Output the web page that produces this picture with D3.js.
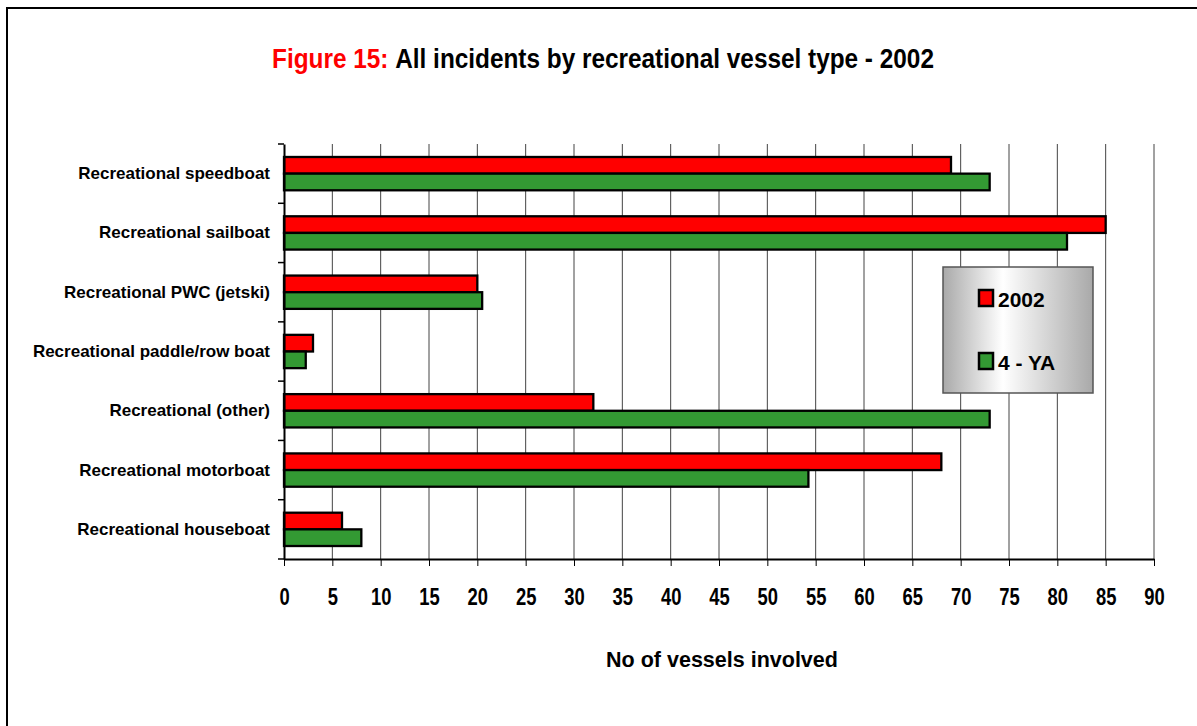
<!DOCTYPE html>
<html>
<head>
<meta charset="utf-8">
<script src="https://cdn.jsdelivr.net/npm/d3@7"></script>
<style>
  body { margin: 0; background: #fff; }
  svg { display: block; font-family: "Liberation Sans", Arial, sans-serif; font-weight: bold; }
</style>
</head>
<body>
<svg id="chart" width="1197" height="726"></svg>
<script>
const categories = [
  "Recreational speedboat",
  "Recreational sailboat",
  "Recreational PWC (jetski)",
  "Recreational paddle/row boat",
  "Recreational (other)",
  "Recreational motorboat",
  "Recreational houseboat"
];
const seriesNames = ["2002", "4 - YA"];
const values2002 = [69, 85, 20, 3, 32, 68, 6];
const valuesFourYA = [73, 81, 20.5, 2.25, 73, 54.25, 8];
const xTicks = d3.range(0, 91, 5);
const colors = ["#ff0000", "#339933"];

const svg = d3.select("#chart");
const margin = { left: 284, right: 43, top: 144, bottom: 167 };
const width = 1197, height = 726;

// outer frame
svg.append("rect")
  .attr("x", 7).attr("y", 8)
  .attr("width", 1200).attr("height", 740)
  .attr("fill", "none").attr("stroke", "#000").attr("stroke-width", 2);

// title (narrow bold look)
const title = svg.append("text")
  .attr("transform", "translate(603,68) scale(0.87,1)")
  .attr("text-anchor", "middle")
  .attr("font-size", 28);
title.append("tspan").attr("fill", "#ff0000").text("Figure 15: ");
title.append("tspan").attr("fill", "#000").text("All incidents by recreational vessel type - 2002");

const x = d3.scaleLinear().domain([0, 90]).range([margin.left, width - margin.right]);
const y = d3.scaleBand().domain(categories).range([margin.top, height - margin.bottom]);
const inner = d3.scaleBand().domain(seriesNames).range([0, y.bandwidth()]).paddingOuter(0.78).paddingInner(0);

// gridlines
svg.append("g")
  .selectAll("line")
  .data(xTicks.slice(1))
  .join("line")
  .attr("x1", d => x(d)).attr("x2", d => x(d))
  .attr("y1", margin.top).attr("y2", height - margin.bottom)
  .attr("stroke", "#444").attr("stroke-width", 1);

// bars
const rows = categories.map((c, i) => ({ cat: c, vals: [values2002[i], valuesFourYA[i]] }));
const groups = svg.append("g").selectAll("g")
  .data(rows)
  .join("g")
  .attr("transform", d => `translate(0,${y(d.cat)})`);
groups.selectAll("rect")
  .data(d => d.vals.map((v, i) => ({ key: seriesNames[i], v, i })))
  .join("rect")
  .attr("x", x(0))
  .attr("y", d => inner(d.key))
  .attr("width", d => x(d.v) - x(0))
  .attr("height", inner.bandwidth())
  .attr("fill", d => colors[d.i])
  .attr("stroke", "#000").attr("stroke-width", 2.3);

// x axis
const xAxis = svg.append("g")
  .attr("transform", `translate(0,${height - margin.bottom})`)
  .call(d3.axisBottom(x).tickValues(xTicks).tickSize(7).tickPadding(0).tickSizeOuter(0));
xAxis.select(".domain").attr("stroke", "#000").attr("stroke-width", 2);
xAxis.selectAll(".tick line").attr("stroke", "#000");
xAxis.selectAll("text")
  .attr("font-size", 23).attr("font-family", null).attr("fill", "#000")
  .attr("y", 46).attr("dy", null)
  .attr("transform", "scale(0.8,1)");

// y axis
const yAxis = svg.append("g")
  .attr("transform", `translate(${margin.left},0)`)
  .call(d3.axisLeft(y).tickSize(0).tickPadding(14));
yAxis.select(".domain").attr("stroke", "#000").attr("stroke-width", 2);
yAxis.selectAll("text").attr("font-size", 17).attr("font-family", null).attr("fill", "#000");
// boundary ticks between categories
svg.append("g").selectAll("line")
  .data(d3.range(categories.length + 1))
  .join("line")
  .attr("x1", margin.left - 6).attr("x2", margin.left)
  .attr("y1", i => margin.top + i * y.step())
  .attr("y2", i => margin.top + i * y.step())
  .attr("stroke", "#000").attr("stroke-width", 1.5);

// axis title
svg.append("text")
  .attr("x", 722).attr("y", 667)
  .attr("text-anchor", "middle")
  .attr("font-size", 21.5)
  .text("No of vessels involved");

// legend
const defs = svg.append("defs");
const grad = defs.append("linearGradient").attr("id", "legendGrad");
grad.append("stop").attr("offset", "0%").attr("stop-color", "#a9a9a9");
grad.append("stop").attr("offset", "40%").attr("stop-color", "#ffffff");
grad.append("stop").attr("offset", "100%").attr("stop-color", "#a9a9a9");

const legend = svg.append("g").attr("transform", "translate(943,267)");
legend.append("rect")
  .attr("width", 150).attr("height", 126)
  .attr("fill", "url(#legendGrad)")
  .attr("stroke", "#555").attr("stroke-width", 1.5);
const items = legend.selectAll("g.item")
  .data(seriesNames)
  .join("g")
  .attr("class", "item")
  .attr("transform", (d, i) => `translate(36,${23 + i * 63})`);
items.append("rect")
  .attr("width", 14).attr("height", 16)
  .attr("fill", (d, i) => colors[i])
  .attr("stroke", "#000").attr("stroke-width", 2.5);
items.append("text")
  .attr("x", 19).attr("y", 17)
  .attr("font-size", 21)
  .text(d => d);
</script>
</body>
</html>
